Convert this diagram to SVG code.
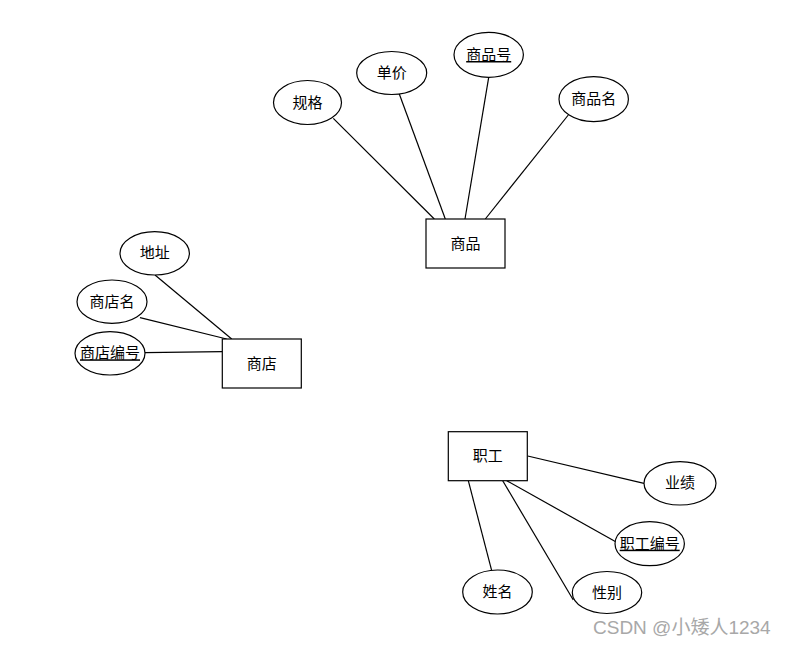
<svg xmlns="http://www.w3.org/2000/svg" width="788" height="646" viewBox="0 0 788 646">
<style>
.e{fill:#fff;stroke:#000;stroke-width:1.2}
.r{fill:#fff;stroke:#000;stroke-width:1.2}
.l{stroke:#000;stroke-width:1.2;fill:none}
.t{font-family:"Noto Sans CJK SC","Liberation Sans",sans-serif;font-size:15px;fill:#000;text-anchor:middle}
.u{text-decoration:underline}
.w{font-family:"Liberation Sans","Noto Sans CJK SC",sans-serif;font-size:19px;fill:#a8a8a8}
</style>
<rect width="788" height="646" fill="#fff"/>
<g id="connectors">
<line class="l" x1="333.3" y1="118.3" x2="434.3" y2="219"/>
<line class="l" x1="399.3" y1="94" x2="445.3" y2="219"/>
<line class="l" x1="488.7" y1="77.3" x2="465" y2="219"/>
<line class="l" x1="568.3" y1="115" x2="485.3" y2="219"/>
<line class="l" x1="155" y1="275" x2="231.7" y2="339"/>
<line class="l" x1="140" y1="317.7" x2="226.7" y2="339"/>
<line class="l" x1="145" y1="352.7" x2="222.3" y2="351.7"/>
<line class="l" x1="527.7" y1="456" x2="644" y2="483.3"/>
<line class="l" x1="506.7" y1="480.7" x2="615.7" y2="541.7"/>
<line class="l" x1="502.7" y1="480.7" x2="573.3" y2="600"/>
<line class="l" x1="468.3" y1="480.7" x2="491.7" y2="570.7"/>
</g>
<g id="shangpin"><rect class="r" x="426" y="219" width="79" height="49"/><text class="t" x="465.5" y="248.5">商品</text></g>
<g id="guige"><ellipse class="e" cx="307.5" cy="102.5" rx="34" ry="22"/><text class="t" x="307.5" y="107.5">规格</text></g>
<g id="danjia"><ellipse class="e" cx="391.7" cy="73" rx="35" ry="21.5"/><text class="t" x="391.7" y="78">单价</text></g>
<g id="shangpinhao"><ellipse class="e" cx="488.7" cy="54.8" rx="34.7" ry="22.5"/><text class="t u" x="488.7" y="60">商品号</text></g>
<g id="shangpinming"><ellipse class="e" cx="593.7" cy="99.2" rx="34.7" ry="22.5"/><text class="t" x="593.7" y="104.2">商品名</text></g>
<g id="shangdian"><rect class="r" x="222.3" y="339" width="79" height="49"/><text class="t" x="261.8" y="368.5">商店</text></g>
<g id="dizhi"><ellipse class="e" cx="154.7" cy="253.3" rx="34.7" ry="21.7"/><text class="t" x="154.7" y="258.3">地址</text></g>
<g id="shangdianming"><ellipse class="e" cx="112" cy="301.7" rx="35" ry="21.7"/><text class="t" x="112" y="306.7">商店名</text></g>
<g id="shangdianbianhao"><ellipse class="e" cx="110" cy="353.3" rx="35" ry="21.7"/><text class="t u" x="110" y="358.3">商店编号</text></g>
<g id="zhigong"><rect class="r" x="448.3" y="431.7" width="79" height="49"/><text class="t" x="487.8" y="461.2">职工</text></g>
<g id="yeji"><ellipse class="e" cx="680" cy="483.3" rx="36" ry="21.7"/><text class="t" x="680" y="488.3">业绩</text></g>
<g id="zhigongbianhao"><ellipse class="e" cx="649.7" cy="543.7" rx="34.7" ry="22"/><text class="t u" x="649.7" y="548.7">职工编号</text></g>
<g id="xingming"><ellipse class="e" cx="497.5" cy="592" rx="34.8" ry="22"/><text class="t" x="497.5" y="597">姓名</text></g>
<g id="xingbie"><ellipse class="e" cx="607" cy="592.5" rx="34.7" ry="21"/><text class="t" x="607" y="597.5">性别</text></g>
<text class="w" x="593" y="634">CSDN @小矮人1234</text>
</svg>
